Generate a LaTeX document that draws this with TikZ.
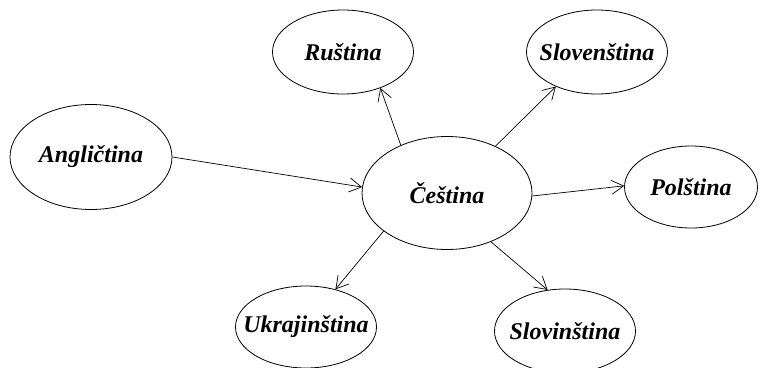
\documentclass[tikz,border=0pt]{standalone}
\usepackage{fontspec}
\setmainfont{Liberation Serif}
\usetikzlibrary{shapes.geometric,arrows.meta}
\newcommand{\langtext}[1]{\makebox[0pt]{#1}}
\begin{document}
\begin{tikzpicture}[x=1pt,y=-1pt,
  lang/.style={ellipse,draw,line width=0.8pt,inner sep=0pt,
    font=\fontsize{24}{26}\selectfont\bfseries\itshape},
  link/.style={line width=0.7pt,-{Straight Barb[length=12pt,width=14pt,line width=0.7pt]}}]
\useasboundingbox (0,0) rectangle (760,367);
\clip (0,0) rectangle (760,367);
\node[lang,minimum width=162pt,minimum height=105pt] (ang) at (91,157) {\langtext{Angličtina}};
\node[lang,minimum width=170pt,minimum height=113pt] (ces) at (447,193) {\langtext{Čeština}};
\node[lang,minimum width=141pt,minimum height=84pt] (rus) at (343,52) {\langtext{Ruština}};
\node[lang,minimum width=141pt,minimum height=84pt] (slv) at (597,52) {\langtext{Slovenština}};
\node[lang,minimum width=133pt,minimum height=82pt] (pol) at (691,187) {\langtext{Polština}};
\node[lang,minimum width=141pt,minimum height=82pt] (ukr) at (306,327) {\langtext{Ukrajinština}};
\node[lang,minimum width=141pt,minimum height=84pt] (sln) at (565,331) {\langtext{Slovinština}};
\draw[link] (ang.0) -- (ces.176);
\draw[link] (ces.134) -- (rus.-44);
\draw[link] (ces.44) -- (slv.220);
\draw[link] (ces.-2) -- (pol.179);
\draw[link] (ces.211) -- (ukr.52);
\draw[link] (ces.-48) -- (sln.113);
\end{tikzpicture}
\end{document}
